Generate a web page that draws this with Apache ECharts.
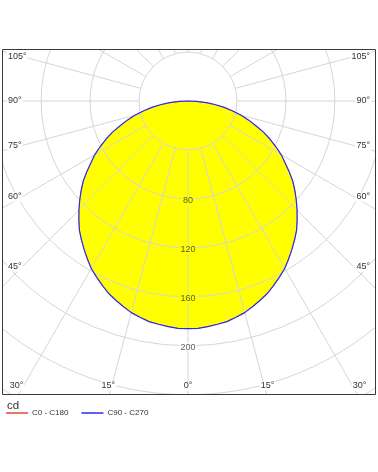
<!DOCTYPE html>
<html>
<head>
<meta charset="utf-8">
<script src="https://cdn.jsdelivr.net/npm/echarts@6/dist/echarts.min.js"></script>
<style>
html, body { margin: 0; padding: 0; background: #fff; }
#chart { width: 378px; height: 472px; }
</style>
</head>
<body>
<div id="chart"></div>
<script>
// gamma angles (deg), negative = left half of the diagram
var gammaDeg = [-90, -87.5, -85, -82.5, -80, -77.5, -75, -72.5, -70, -67.5, -65, -62.5, -60, -57.5, -55, -52.5,
	-50, -47.5, -45, -42.5, -40, -37.5, -35, -32.5, -30, -27.5, -25, -22.5, -20, -17.5, -15, -12.5, -10, -7.5, -5, -2.5,
	0, 2.5, 5, 7.5, 10, 12.5, 15, 17.5, 20, 22.5, 25, 27.5, 30, 32.5, 35, 37.5, 40, 42.5, 45, 47.5,
	50, 52.5, 55, 57.5, 60, 62.5, 65, 67.5, 70, 72.5, 75, 77.5, 80, 82.5, 85, 87.5, 90];
// luminous intensity, cd
var c0c180 = [0, 7, 15, 22, 30, 37, 45, 52, 59, 67, 74, 81, 88, 94, 101, 108,
	114, 120, 126, 132, 138, 143, 148, 153, 158, 162, 166, 170, 173, 176, 179, 181, 183, 184, 185, 186,
	186, 186, 185, 184, 183, 181, 179, 176, 173, 170, 166, 162, 158, 153, 148, 143, 138, 132, 126, 120,
	114, 108, 101, 94, 88, 81, 74, 67, 59, 52, 45, 37, 30, 22, 15, 7, 0];
var c90c270 = [0, 7, 15, 22, 30, 37, 45, 52, 59, 67, 74, 81, 88, 94, 101, 108,
	114, 120, 126, 132, 138, 143, 148, 153, 158, 162, 166, 170, 173, 176, 179, 181, 183, 184, 185, 186,
	186, 186, 185, 184, 183, 181, 179, 176, 173, 170, 166, 162, 158, 153, 148, 143, 138, 132, 126, 120,
	114, 108, 101, 94, 88, 81, 74, 67, 59, 52, 45, 37, 30, 22, 15, 7, 0];
var ringLabels = [80, 120, 160, 200];
var sideAngles = [105, 90, 75, 60, 45];
var bottomAngles = [-30, -15, 0, 15, 30];
var seriesNames = ['C0 - C180', 'C90 - C270'];
var seriesColors = ['#e8453c', '#2a2af0'];

var cx = 188, cy = 101,
	rMin = 40, rMax = 320,
	pxPerCd = 1.224,
	frame = { x: 2, y: 49, w: 373, h: 345 },
	fontName = '"Liberation Sans", Arial, sans-serif',
	font = '9px ' + fontName;

function pairs(vals) {
	var out = [], i;
	for (i = 0; i < gammaDeg.length; i++) {
		out.push([vals[i], gammaDeg[i]]);
	}
	return out;
}

var graphics = [
	{ type: 'rect', z: 100, shape: { x: 0, y: 0, width: 378, height: frame.y }, style: { fill: '#fff' } },
	{ type: 'rect', z: 100, shape: { x: 0, y: frame.y + frame.h, width: 378, height: 472 }, style: { fill: '#fff' } },
	{ type: 'rect', z: 100, shape: { x: 0, y: 0, width: frame.x, height: 472 }, style: { fill: '#fff' } },
	{ type: 'rect', z: 100, shape: { x: frame.x + frame.w, y: 0, width: 10, height: 472 }, style: { fill: '#fff' } },
	{ type: 'rect', z: 101, shape: { x: frame.x + 0.5, y: frame.y + 0.5, width: frame.w, height: frame.h },
		style: { fill: null, stroke: '#3a3a3a', lineWidth: 1 } },
	{ type: 'text', z: 101, x: 7, y: 400, style: { text: 'cd', font: '11.5px ' + fontName, fill: '#333', verticalAlign: 'top' } }
];

// angle labels where the spokes meet the frame
sideAngles.forEach(function (a) {
	var rad = a * Math.PI / 180,
		t = (cx - 22) / Math.sin(rad),
		y = cy + t * Math.cos(rad);
	graphics.push({ type: 'text', z: 110, x: 7, y: y,
		style: { text: a + '°', font: font, fill: '#333', align: 'left', verticalAlign: 'middle', backgroundColor: '#fff', padding: [0, 1] } });
	graphics.push({ type: 'text', z: 110, x: 371, y: y,
		style: { text: a + '°', font: font, fill: '#333', align: 'right', verticalAlign: 'middle', backgroundColor: '#fff', padding: [0, 1] } });
});
bottomAngles.forEach(function (a) {
	var rad = a * Math.PI / 180,
		x = cx + (frame.y + frame.h + 4 - cy) * Math.tan(rad);
	graphics.push({ type: 'text', z: 110, x: x, y: 386,
		style: { text: Math.abs(a) + '°', font: font, fill: '#333', align: 'center', verticalAlign: 'middle', backgroundColor: '#fff', padding: [0, 1] } });
});

var ringData = ringLabels.map(function (v) {
	return {
		value: [v, 0],
		label: { backgroundColor: v < c0c180[gammaDeg.indexOf(0)] ? '#ffff00' : '#fff' }
	};
});

var myChart = echarts.init(document.getElementById('chart'), null, { renderer: 'canvas' });

var hiddenAxis = { show: false, axisLine: { show: false }, axisTick: { show: false }, axisLabel: { show: false }, splitLine: { show: false } };

var option = {
	animation: false,
	backgroundColor: '#fff',
	polar: [
		{ center: [cx, cy], radius: [rMin * pxPerCd, rMax * pxPerCd] },
		{ center: [cx, cy], radius: [0, rMax * pxPerCd] }
	],
	angleAxis: [
		{
			polarIndex: 0,
			type: 'value',
			min: -180,
			max: 180,
			interval: 15,
			startAngle: 90,
			clockwise: false,
			z: 3,
			axisLine: { show: false },
			axisTick: { show: false },
			axisLabel: { show: false },
			splitLine: { show: true, lineStyle: { color: '#d6d6d6', width: 1 } }
		},
		echarts.util.merge({ polarIndex: 1, type: 'value', min: -180, max: 180, interval: 15, startAngle: 90, clockwise: false }, hiddenAxis)
	],
	radiusAxis: [
		{
			polarIndex: 0,
			type: 'value',
			min: rMin,
			max: rMax,
			interval: 40,
			z: 3,
			axisLine: { show: false },
			axisTick: { show: false },
			axisLabel: { show: false },
			splitLine: { show: true, lineStyle: { color: '#d6d6d6', width: 1 } }
		},
		echarts.util.merge({ polarIndex: 1, type: 'value', min: 0, max: rMax, interval: 40 }, hiddenAxis)
	],
	legend: {
		left: 6,
		top: 409,
		padding: 0,
		z: 120,
		icon: 'rect',
		itemWidth: 22,
		itemHeight: 1.5,
		itemGap: 13,
		itemStyle: { borderWidth: 0 },
		textStyle: { fontSize: 8, fontFamily: 'Liberation Sans', color: '#333', padding: [0, 0, 0, -1] },
		data: seriesNames.map(function (n, i) {
			return { name: n, itemStyle: { color: seriesColors[i], borderWidth: 0 } };
		})
	},
	graphic: graphics,
	series: [
		{
			name: seriesNames[0],
			type: 'line',
			coordinateSystem: 'polar',
			polarIndex: 1,
			data: pairs(c0c180),
			color: seriesColors[0],
			symbol: 'none',
			clip: false,
			silent: true,
			z: 1,
			lineStyle: { width: 0.5 },
			areaStyle: { color: '#ffff00', opacity: 1, origin: 0 }
		},
		{
			name: seriesNames[1],
			type: 'line',
			coordinateSystem: 'polar',
			polarIndex: 1,
			data: pairs(c90c270),
			color: seriesColors[1],
			symbol: 'none',
			clip: false,
			silent: true,
			z: 5,
			lineStyle: { width: 1.2 }
		},
		{
			type: 'scatter',
			coordinateSystem: 'polar',
			polarIndex: 1,
			data: ringData,
			symbolSize: 0,
			silent: true,
			z: 6,
			label: {
				show: true,
				position: 'inside',
				offset: [0, 1.5],
				formatter: function (p) { return p.value[0]; },
				fontSize: 9,
				fontFamily: 'Liberation Sans',
				color: '#333',
				padding: [0, 1]
			}
		}
	]
};

myChart.setOption(option);
</script>
</body>
</html>
